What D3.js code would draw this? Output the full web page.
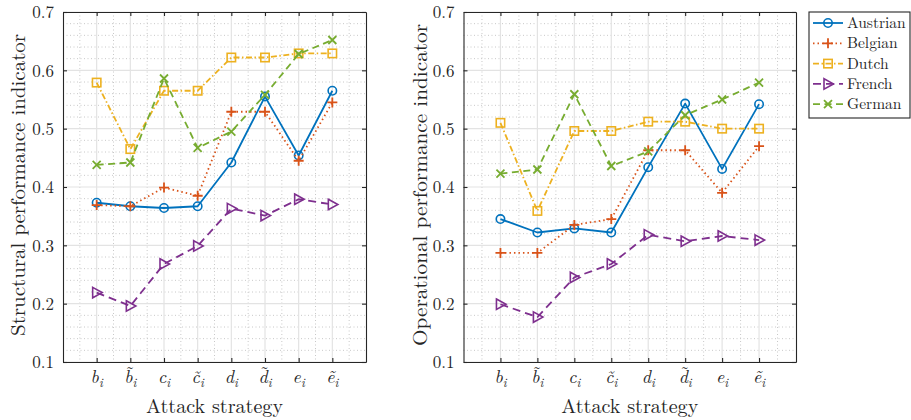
<!DOCTYPE html>
<html><head><meta charset="utf-8">
<script src="https://cdn.jsdelivr.net/npm/d3@7"></script>
<style>
body{margin:0;background:#fff;}
svg{display:block;}
svg text{font-family:"Latin Modern Roman","CMU Serif","Liberation Serif","DejaVu Serif","Noto Serif","Tinos","Nimbus Roman","Nimbus Roman No9 L","FreeSerif","Times New Roman","Times",serif !important;fill:#262626;}
</style></head>
<body><svg id="c" width="911" height="420"></svg>
<script>
const categories = ["b_i","b\u0303_i","c_i","c\u0303_i","d_i","d\u0303_i","e_i","e\u0303_i"];
const seriesNames = ["Austrian","Belgian","Dutch","French","German"];
const seriesColors = ["#0072BD","#D95319","#EDB120","#7E2F8E","#77AC30"];
const yTicks = [0.1,0.2,0.3,0.4,0.5,0.6,0.7];

const structAustrian = [0.373,0.367,0.364,0.367,0.442,0.555,0.454,0.565];
const structBelgian  = [0.369,0.367,0.399,0.385,0.529,0.529,0.445,0.545];
const structDutch    = [0.579,0.465,0.565,0.565,0.622,0.622,0.629,0.629];
const structFrench   = [0.219,0.196,0.268,0.299,0.363,0.351,0.379,0.370];
const structGerman   = [0.438,0.442,0.586,0.467,0.495,0.558,0.628,0.652];

const operAustrian = [0.345,0.322,0.329,0.322,0.434,0.543,0.431,0.542];
const operBelgian  = [0.287,0.287,0.335,0.345,0.463,0.463,0.390,0.470];
const operDutch    = [0.510,0.359,0.496,0.496,0.512,0.512,0.500,0.500];
const operFrench   = [0.199,0.177,0.245,0.268,0.318,0.307,0.316,0.309];
const operGerman   = [0.423,0.430,0.559,0.436,0.461,0.523,0.550,0.579];

const structSeries = [structAustrian,structBelgian,structDutch,structFrench,structGerman];
const operSeries = [operAustrian,operBelgian,operDutch,operFrench,operGerman];

const dashes = [null,"1.5,3","6,2.5,1.5,2.5","8,5","7,4.5"];
const svg = d3.select("#c");

function marker(g, k, color){
  const p = g.append("g");
  if(k===0) p.append("circle").attr("r",4.2).attr("fill","none").attr("stroke",color).attr("stroke-width",1.6);
  else if(k===1) p.append("path").attr("d","M-5,0H5M0,-5V5").attr("stroke",color).attr("stroke-width",1.8).attr("fill","none");
  else if(k===2) p.append("rect").attr("x",-4.2).attr("y",-4.2).attr("width",8.4).attr("height",8.4).attr("fill","none").attr("stroke",color).attr("stroke-width",1.6);
  else if(k===3) p.append("path").attr("d","M-4,-5.2L5.5,0L-4,5.2Z").attr("fill","none").attr("stroke",color).attr("stroke-width",1.6);
  else p.append("path").attr("d","M-4,-4L4,4M-4,4L4,-4").attr("stroke",color).attr("stroke-width",1.8).attr("fill","none");
  return p;
}

function panel(x0,x1,data,ylabel,ylabelX,ylabelLen){
  const y0=12, y1=362;
  const x = d3.scaleLinear().domain([0,categories.length+1]).range([x0,x1]);
  const y = d3.scaleLinear().domain([0.1,0.7]).range([y1,y0]);
  const g = svg.append("g");
  const minorX = d3.range(0.5, categories.length+1, 1);
  g.selectAll(".mx").data(minorX).enter().append("line")
    .attr("x1",d=>x(d)).attr("x2",d=>x(d)).attr("y1",y0).attr("y2",y1)
    .attr("stroke","#c8c8c8").attr("stroke-width",1).attr("stroke-dasharray","1,2.5");
  const minorY = d3.range(0.12,0.7,0.02).filter(v=>Math.abs(Math.round(v*10)-v*10)>0.05);
  g.selectAll(".my").data(minorY).enter().append("line")
    .attr("y1",d=>y(d)).attr("y2",d=>y(d)).attr("x1",x0).attr("x2",x1)
    .attr("stroke","#c8c8c8").attr("stroke-width",1).attr("stroke-dasharray","1,2.5");
  g.selectAll(".gx").data(d3.range(1,categories.length+1)).enter().append("line")
    .attr("x1",d=>x(d)).attr("x2",d=>x(d)).attr("y1",y0).attr("y2",y1)
    .attr("stroke","#e3e3e3").attr("stroke-width",1.2);
  g.selectAll(".gy").data(yTicks).enter().append("line")
    .attr("y1",d=>y(d)).attr("y2",d=>y(d)).attr("x1",x0).attr("x2",x1)
    .attr("stroke","#e3e3e3").attr("stroke-width",1.2);
  const ax = d3.axisBottom(x).tickValues(d3.range(1,categories.length+1)).tickSizeInner(-4).tickSizeOuter(0).tickFormat("");
  const axT = d3.axisTop(x).tickValues(d3.range(1,categories.length+1)).tickSizeInner(-4).tickSizeOuter(0).tickFormat("");
  const ay = d3.axisLeft(y).tickValues(yTicks).tickSizeInner(-4).tickSizeOuter(0).tickFormat(d3.format(".1f")).tickPadding(9);
  const ayR = d3.axisRight(y).tickValues(yTicks).tickSizeInner(-4).tickSizeOuter(0).tickFormat("");
  const styleAxis = s => { s.attr("font-family",null); s.select(".domain").attr("stroke","#262626").attr("stroke-width",1.1); s.selectAll(".tick line").attr("stroke","#262626").attr("stroke-width",1.1); };
  g.append("g").attr("transform",`translate(0,${y1})`).call(ax).call(styleAxis);
  g.append("g").attr("transform",`translate(0,${y0})`).call(axT).call(styleAxis);
  const gy = g.append("g").attr("transform",`translate(${x0},0)`).call(ay).call(styleAxis);
  gy.selectAll(".tick text").attr("font-size",17).attr("fill","#262626").attr("dy","0.34em");
  g.append("g").attr("transform",`translate(${x1},0)`).call(ayR).call(styleAxis);
  categories.forEach((c,i)=>{
    const cx = x(i+1);
    const parts = c.split("_");
    const letter = parts[0][0];
    const tilde = parts[0].indexOf("\u0303")>=0;
    const tall = (letter==="b"||letter==="d");
    const t = g.append("text").attr("x",cx).attr("y",383).attr("text-anchor","middle")
      .attr("font-size",18).attr("font-style","italic");
    if(tilde && tall){
      const b = t.append("tspan").text(letter);
      const w = b.node().getComputedTextLength();
      const tt = t.append("tspan").attr("font-style","normal").text("\u02DC");
      const tw = tt.node().getComputedTextLength();
      const shift = 1.5;
      tt.attr("dx", -(w/2 + tw/2) + shift).attr("dy",-4.5);
      t.append("tspan").attr("font-size",12.5).attr("dx", w/2 - tw/2 - shift).attr("dy",8.5).text(parts[1]);
    } else {
      t.append("tspan").text(parts[0]);
      t.append("tspan").attr("font-size",12.5).attr("dy",4).text(parts[1]);
    }
  });
  g.append("text").attr("x",(x0+x1)/2).attr("y",413).attr("text-anchor","middle")
    .attr("font-size",19.5).attr("textLength",137).attr("lengthAdjust","spacingAndGlyphs").text("Attack strategy");
  g.append("text").attr("transform",`translate(${ylabelX},185) rotate(-90)`).attr("text-anchor","middle")
    .attr("font-size",19.5).attr("textLength",ylabelLen).attr("lengthAdjust","spacingAndGlyphs").text(ylabel);
  data.forEach((vals,k)=>{
    const line = d3.line().x((d,i)=>x(i+1)).y(d=>y(d));
    g.append("path").datum(vals).attr("d",line).attr("fill","none")
      .attr("stroke",seriesColors[k]).attr("stroke-width",1.8)
      .attr("stroke-dasharray",dashes[k]).attr("stroke-linejoin","round");
    vals.forEach((v,i)=>{ marker(g,k,seriesColors[k]).attr("transform",`translate(${x(i+1)},${y(v)})`); });
  });
}

panel(63,366,structSeries,"Structural performance indicator",25,302);
panel(463.5,796,operSeries,"Operational performance indicator",427,322);

const lg = svg.append("g");
lg.append("rect").attr("x",809).attr("y",12).attr("width",101).attr("height",106).attr("fill","#fff").attr("stroke","#262626").attr("stroke-width",1.1);
seriesNames.forEach((n,k)=>{
  const yy = 23 + k*20.3;
  lg.append("line").attr("x1",813).attr("x2",843).attr("y1",yy).attr("y2",yy)
    .attr("stroke",seriesColors[k]).attr("stroke-width",1.8).attr("stroke-dasharray",dashes[k]);
  marker(lg,k,seriesColors[k]).attr("transform",`translate(828,${yy})`);
  lg.append("text").attr("x",847).attr("y",yy+5).attr("font-size",15.5).text(n);
});
</script></body></html>
